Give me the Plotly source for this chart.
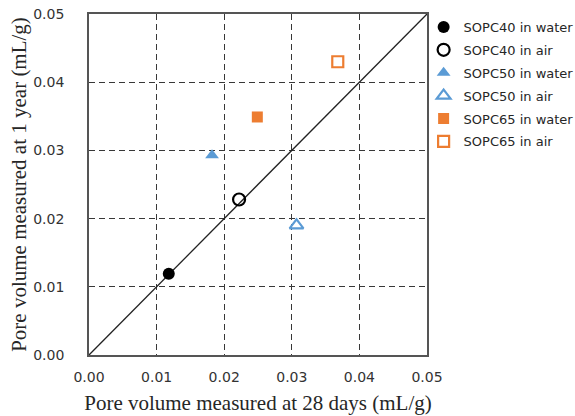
import plotly.graph_objects as go

series_names = ["SOPC40 in water", "SOPC40 in air", "SOPC50 in water",
                "SOPC50 in air", "SOPC65 in water", "SOPC65 in air"]
x_28days = [0.0118, 0.0222, 0.0182, 0.0307, 0.0249, 0.0368]
y_1year = [0.0119, 0.0228, 0.0293, 0.0190, 0.0349, 0.0430]
symbols = ["circle", "circle-open", "triangle-up", "triangle-up-open", "square", "square-open"]
colors = ["#000000", "#000000", "#5B9BD5", "#5B9BD5", "#ED7D31", "#ED7D31"]
sizes = [12, 12, 12, 12, 11, 11]

diag_x = [0, 0.05]
diag_y = [0, 0.05]
tick_vals = [0, 0.01, 0.02, 0.03, 0.04, 0.05]
tick_text = ["0.00", "0.01", "0.02", "0.03", "0.04", "0.05"]

fig = go.Figure()
fig.add_trace(go.Scatter(x=diag_x, y=diag_y, mode="lines",
                         line=dict(color="#222222", width=1.3),
                         showlegend=False, hoverinfo="skip"))
for i, (name, xv, yv, sym, col, sz) in enumerate(zip(series_names, x_28days, y_1year, symbols, colors, sizes)):
    fig.add_trace(go.Scatter(
        x=[xv], y=[yv], mode="markers", name=name, legendgroup=f"g{i}",
        marker=dict(symbol=sym, color=col, size=sz,
                    line=dict(color=col, width=2.2 if "open" in sym else 0))))

axis_common = dict(
    range=[0, 0.05], tickvals=tick_vals, ticktext=tick_text,
    showgrid=True, gridcolor="#383838", griddash="6px,4px", gridwidth=1.3,
    showline=True, linecolor="#555555", linewidth=1.8, mirror=True,
    zeroline=False, ticks="",
    tickfont=dict(family="DejaVu Sans", size=14, color="#333333"),
    automargin=False,
)

fig.update_layout(
    width=575, height=416,
    margin=dict(l=89, r=148, t=14, b=61, autoexpand=False),
    paper_bgcolor="white", plot_bgcolor="white",
    xaxis=dict(**axis_common, ticklabelstandoff=8,
               title=dict(text="Pore volume measured at 28 days (mL/g)",
                          font=dict(family="Liberation Serif", size=21, color="#262626"),
                          standoff=12)),
    yaxis=dict(**axis_common, ticklabelstandoff=20,
               title=dict(text="Pore volume measured at 1 year (mL/g)",
                          font=dict(family="Liberation Serif", size=21, color="#262626"),
                          standoff=1)),
    legend=dict(x=0.99, y=1.006, xanchor="left", yanchor="top",
                font=dict(family="DejaVu Sans", size=13, color="#262626"),
                itemwidth=30, tracegroupgap=3, bgcolor="rgba(0,0,0,0)"),
    showlegend=True,
)

fig.write_html("out.html", config={"displayModeBar": False},
               post_script="document.body.style.margin='0';")
